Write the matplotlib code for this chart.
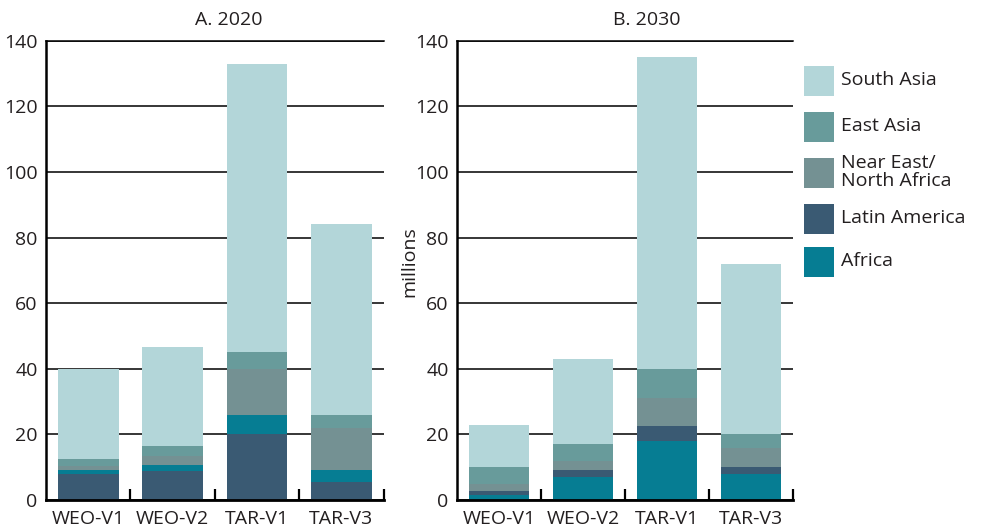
import numpy as np
import matplotlib.pyplot as plt
from matplotlib.patches import Rectangle

plt.rcParams['font.family'] = ['Open Sans', 'DejaVu Sans']
plt.rcParams['font.size'] = 14
plt.rcParams['text.color'] = '#231f20'
plt.rcParams['xtick.color'] = '#231f20'
plt.rcParams['ytick.color'] = '#231f20'
plt.rcParams['axes.labelcolor'] = '#231f20'

scenarios = ['WEO-V1', 'WEO-V2', 'TAR-V1', 'TAR-V3']
regions = ['South Asia', 'East Asia', 'Near East/\nNorth Africa', 'Latin America', 'Africa']
cores = {
    'South Asia': '#b3d6d9',
    'East Asia': '#689b9b',
    'Near East/\nNorth Africa': '#749193',
    'Latin America': '#3a5a73',
    'Africa': '#067d93',
}

# 2020, milhoes (segmentos empilhados de baixo para cima)
ano2020 = {
    'Latin America': [8, 8.7, 20, 5.5],
    'Africa': [1, 2, 6, 3.5],
    'Near East/\nNorth Africa': [1.5, 2.7, 14, 13],
    'East Asia': [2, 3, 5, 4],
    'South Asia': [27.5, 30.3, 88, 58],
}

# 2030
ano2030 = {
    'Africa': [1.6, 7, 18, 8],
    'Latin America': [1.2, 2, 4.6, 2],
    'Near East/\nNorth Africa': [2.2, 3, 8.4, 6],
    'East Asia': [5, 5, 9, 4],
    'South Asia': [13, 26, 95, 52],
}

fig = plt.figure(figsize=(9.84, 5.32), dpi=100)
axA = fig.add_axes([46/984, 32/532, 337.5/984, 459.3/532])
axB = fig.add_axes([457/984, 32/532, 336/984, 459.3/532])


def empilhar(ax, dados, titulo, xtitulo):
    x = np.arange(len(scenarios))
    base = np.zeros(len(scenarios))
    for nome, valores in dados.items():
        ax.bar(x, valores, width=0.72, bottom=base, color=cores[nome],
               linewidth=0, zorder=2)
        base = base + np.array(valores)

    ax.set_xlim(-0.5, len(scenarios) - 0.5)
    ax.set_ylim(0, 140)
    ax.set_yticks(range(0, 141, 20))
    ax.set_xticks(x)
    ax.set_xticklabels(scenarios)
    ax.set_xticks(x + 0.5, minor=True)
    ax.tick_params(axis='x', which='major', length=0, pad=7)
    ax.tick_params(axis='x', which='minor', direction='in', length=8,
                   width=1.6, color='black')
    ax.tick_params(axis='y', length=0, pad=6)
    ax.yaxis.grid(True, color='black', linewidth=1.1, zorder=0)
    ax.set_axisbelow(True)

    ax.spines['right'].set_visible(False)
    ax.spines['top'].set_linewidth(1.1)
    ax.spines['left'].set_linewidth(1.8)
    ax.spines['bottom'].set_linewidth(2.0)

    ax.text(xtitulo, 1.045, titulo, transform=ax.transAxes,
            ha='center', va='center', fontsize=14)


empilhar(axA, ano2020, 'A. 2020', 0.54)
empilhar(axB, ano2030, 'B. 2030', 0.565)
axB.set_ylabel('millions', fontsize=14, labelpad=0)
axB.yaxis.set_label_coords(-0.115, 0.52)

# legenda desenhada a mao, em pixels
lax = fig.add_axes([804/984, (532-285)/532, 180/984, 227/532])
lax.set_xlim(0, 180)
lax.set_ylim(227, 0)
lax.axis('off')
centros = [23, 69, 115, 161, 204]
for nome, cy in zip(regions, centros):
    lax.add_patch(Rectangle((0, cy - 15), 30, 30, color=cores[nome], linewidth=0))
    lax.text(37, cy - 1, nome, ha='left', va='center', fontsize=14,
             linespacing=1.0)

fig.savefig('out.png', dpi=100)
